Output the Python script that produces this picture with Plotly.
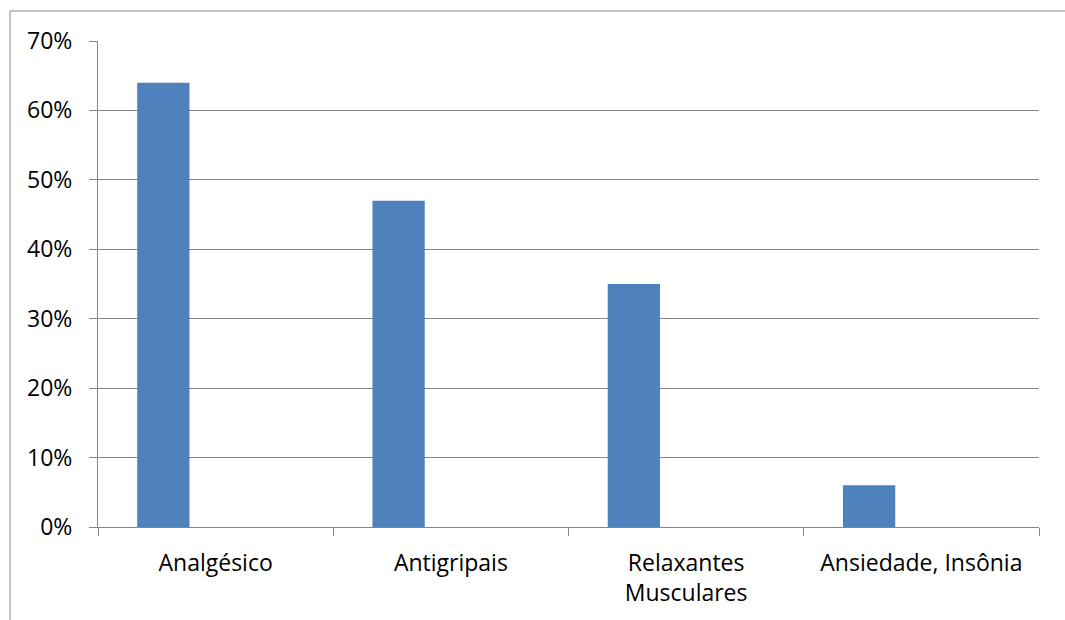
import plotly.graph_objects as go

categories = ["Analgésico", "Antigripais", "Relaxantes<br>Musculares", "Ansiedade, Insônia"]
values = [0.64, 0.47, 0.35, 0.06]
empty_series = [None, None, None, None]

W, H = 1065, 620
L, T, R, B = 98, 41, 26, 93
pw, ph = W - L - R, H - T - B

fig = go.Figure()
fig.add_trace(go.Bar(x=categories, y=values, marker=dict(color="#4F81BD", line=dict(width=0))))
fig.add_trace(go.Bar(x=categories, y=empty_series, marker=dict(color="#C0504D")))
fig.add_trace(go.Bar(x=categories, y=empty_series, marker=dict(color="#9BBB59")))

font = dict(family="Open Sans, Calibri, sans-serif", size=23, color="#000000")
axcol = "#868686"

fig.update_layout(
    width=W, height=H,
    margin=dict(l=L, r=R, t=T, b=B),
    paper_bgcolor="white", plot_bgcolor="white",
    barmode="group", bargap=1.5 / 4.5, bargroupgap=0,
    showlegend=False,
    font=font,
    xaxis=dict(
        type="category", tickson="boundaries", ticks="outside", ticklen=8,
        tickcolor=axcol, showline=True, linecolor=axcol, linewidth=1,
        showgrid=False, tickfont=font, range=[-0.5, 3.5], ticklabelstandoff=15,
    ),
    yaxis=dict(
        range=[0, 0.7], dtick=0.1, tickformat=".0%", ticks="outside", ticklen=8,
        tickcolor=axcol, showline=True, linecolor=axcol, linewidth=1,
        showgrid=True, gridcolor=axcol, gridwidth=1, zeroline=False,
        tickfont=font, ticklabelstandoff=12,
    ),
    shapes=[dict(
        type="rect", xref="paper", yref="paper",
        x0=(10 - L) / pw, x1=(W + 20 - L) / pw,
        y0=-(H + 20 - T - ph) / ph, y1=1 + (T - 11) / ph,
        line=dict(color="#898989", width=1), fillcolor="rgba(0,0,0,0)", layer="below",
    )],
)

fig.write_html("out.html")
